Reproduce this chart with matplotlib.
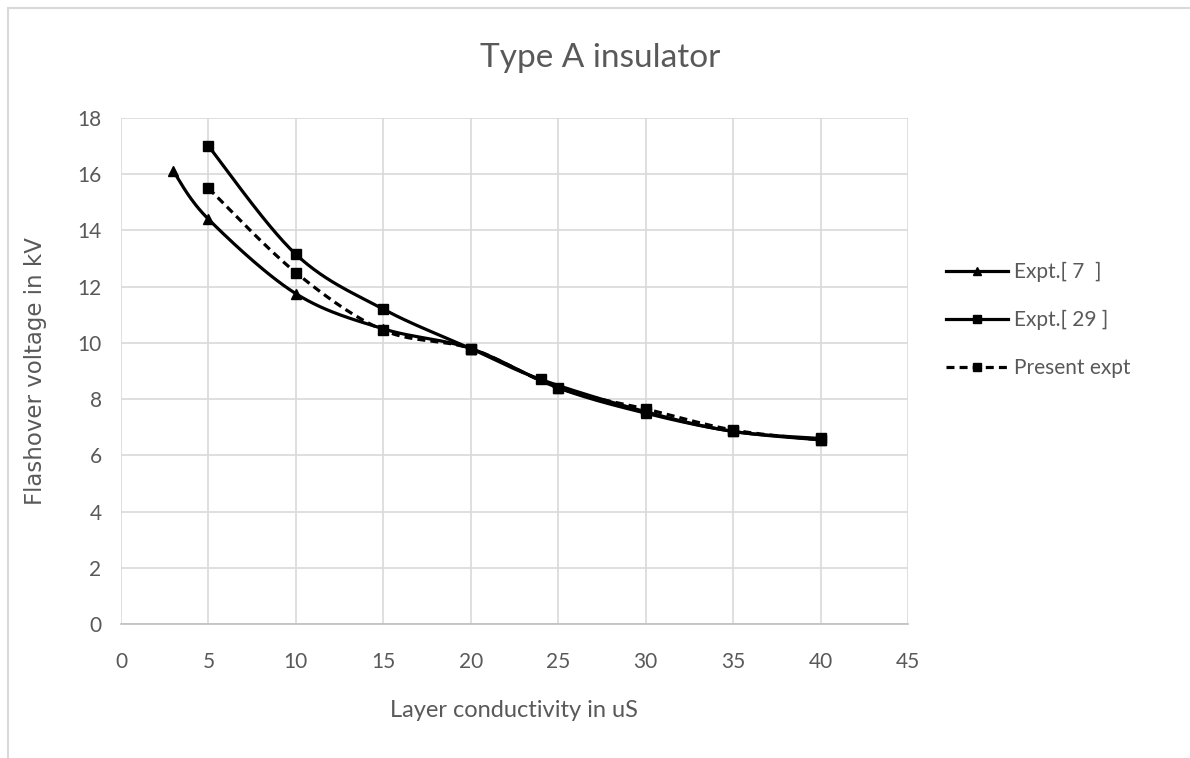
import numpy as np
import matplotlib.pyplot as plt
from matplotlib.lines import Line2D
from matplotlib.patches import Rectangle

# data
x_ref7 = [3, 5, 10, 15, 20, 25, 30, 35, 40]
y_ref7 = [16.1, 14.4, 11.75, 10.5, 9.8, 8.4, 7.5, 6.85, 6.55]

x_ref29 = [5, 10, 15, 20, 24, 30, 35, 40]
y_ref29 = [17.0, 13.15, 11.2, 9.8, 8.7, 7.55, 6.85, 6.6]

x_present = [5, 10, 15, 20, 25, 30, 35, 40]
y_present = [15.5, 12.5, 10.45, 9.8, 8.4, 7.65, 6.9, 6.55]

labels = ['Expt.[ 7  ]', 'Expt.[ 29 ]', 'Present expt']

GRAY = '#595959'


def smooth(xs, ys, steps=30):
    # Excel-like smoothed line (Catmull-Rom style bezier through the points)
    p = np.column_stack([xs, ys]).astype(float)
    n = len(p)
    out = []
    for i in range(n - 1):
        p0 = p[i - 1] if i > 0 else p[i]
        p1 = p[i]
        p2 = p[i + 1]
        p3 = p[i + 2] if i + 2 < n else p[i + 1]
        c1 = p1 + (p2 - p0) / 6
        c2 = p2 - (p3 - p1) / 6
        t = np.linspace(0, 1, steps)[:, None]
        seg = ((1 - t) ** 3) * p1 + 3 * ((1 - t) ** 2) * t * c1 + 3 * (1 - t) * t ** 2 * c2 + t ** 3 * p2
        out.append(seg if i == 0 else seg[1:])
    out = np.vstack(out)
    return out[:, 0], out[:, 1]


plt.rcParams['font.family'] = ['Lato', 'DejaVu Sans']

fig = plt.figure(figsize=(11.9, 7.58), dpi=100)
fig.patches.append(Rectangle((8 / 1190, -0.1), 1.2, 1 - 8 / 758 + 0.1, transform=fig.transFigure,
                             fill=False, edgecolor='#d9d9d9', linewidth=1.5))

ax = fig.add_axes([121 / 1190, 1 - 624 / 758, (908 - 121) / 1190, (624 - 118) / 758])

sx, sy = smooth(x_ref7, y_ref7)
ax.plot(sx, sy, color='black', linewidth=2.3)
ax.plot(x_ref7, y_ref7, linestyle='none', marker='^', markersize=7, color='black')

sx, sy = smooth(x_ref29, y_ref29)
ax.plot(sx, sy, color='black', linewidth=2.3)
ax.plot(x_ref29, y_ref29, linestyle='none', marker='s', markersize=7, color='black')

sx, sy = smooth(x_present, y_present)
ax.plot(sx, sy, color='black', linewidth=2.3, linestyle=(0, (2.5, 1.6)))
ax.plot(x_present, y_present, linestyle='none', marker='s', markersize=7, color='black')

ax.set_xlim(0, 45)
ax.set_ylim(0, 18)
ax.set_xticks(range(0, 46, 5))
ax.set_yticks(range(0, 19, 2))
ax.grid(True, color='#d9d9d9', linewidth=1.2)
ax.set_axisbelow(True)
for side in ['top', 'right', 'left']:
    ax.spines[side].set_visible(False)
ax.spines['bottom'].set_color('#bfbfbf')
ax.spines['bottom'].set_linewidth(1.2)
ax.tick_params(length=0, labelsize=15, labelcolor=GRAY)
ax.tick_params(axis='x', pad=20)
ax.tick_params(axis='y', pad=14)

ax.set_xlabel('Layer conductivity in uS', fontsize=17, color=GRAY, labelpad=20)
ax.set_ylabel('Flashover voltage in kV', fontsize=16.5, color=GRAY, labelpad=22,
              family=['DejaVu Sans'])
fig.text(600 / 1190, 1 - 58 / 758, 'Type A insulator', fontsize=24, color=GRAY,
         ha='center', va='center')

handles = [
    Line2D([], [], color='black', linewidth=2.3, marker='^', markersize=6),
    Line2D([], [], color='black', linewidth=2.3, marker='s', markersize=6),
    Line2D([], [], color='black', linewidth=2.3, marker='s', markersize=6, linestyle=(0, (2.5, 1.6))),
]
fig.legend(handles, labels, loc='upper left', bbox_to_anchor=(927 / 1190, 1 - 243 / 758),
           frameon=False, fontsize=15, labelcolor=GRAY, handlelength=3.0,
           handletextpad=0.3, labelspacing=1.35)

fig.savefig('out.png', dpi=100)
